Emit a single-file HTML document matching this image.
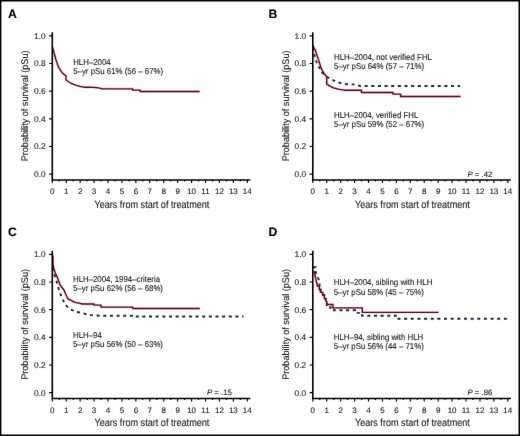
<!DOCTYPE html>
<html><head><meta charset="utf-8"><style>
html,body{margin:0;padding:0;background:#fff;}
svg{display:block;}
text{font-family:"Liberation Sans", sans-serif;text-rendering:geometricPrecision;stroke:#1a1a1a;stroke-width:0.12px;}
</style></head><body>
<svg width="520" height="436" viewBox="0 0 520 436">
<defs><filter id="bl" x="0" y="0" width="520" height="436" filterUnits="userSpaceOnUse" color-interpolation-filters="sRGB"><feConvolveMatrix order="3" kernelMatrix="0.00276 0.04704 0.00276 0.04704 0.80077 0.04704 0.00276 0.04704 0.00276" divisor="1" edgeMode="duplicate"/></filter></defs>
<g filter="url(#bl)">
<rect x="0" y="0" width="520" height="436" fill="#fff"/>
<g transform="translate(0,0)">
<text x="7.9" y="18" font-size="12.2" font-weight="bold" fill="#000">A</text>
<path d="M49.1 174.20H52.3M49.1 146.52H52.3M49.1 118.84H52.3M49.1 91.16H52.3M49.1 63.48H52.3M49.1 35.80H52.3" stroke="#000" stroke-width="1.2"/>
<text x="45.6" y="177.15" font-size="8.3" text-anchor="end" fill="#1a1a1a">0.0</text>
<text x="45.6" y="149.47" font-size="8.3" text-anchor="end" fill="#1a1a1a">0.2</text>
<text x="45.6" y="121.79" font-size="8.3" text-anchor="end" fill="#1a1a1a">0.4</text>
<text x="45.6" y="94.11" font-size="8.3" text-anchor="end" fill="#1a1a1a">0.6</text>
<text x="45.6" y="66.43" font-size="8.3" text-anchor="end" fill="#1a1a1a">0.8</text>
<text x="45.6" y="38.75" font-size="8.3" text-anchor="end" fill="#1a1a1a">1.0</text>
<path d="M52.30 180.0V182.9M66.23 180.0V182.9M80.16 180.0V182.9M94.09 180.0V182.9M108.02 180.0V182.9M121.95 180.0V182.9M135.88 180.0V182.9M149.81 180.0V182.9M163.74 180.0V182.9M177.67 180.0V182.9M191.60 180.0V182.9M205.53 180.0V182.9M219.46 180.0V182.9M233.39 180.0V182.9M247.32 180.0V182.9M59.27 180.0V181.4M73.19 180.0V181.4M87.12 180.0V181.4M101.05 180.0V181.4M114.98 180.0V181.4M128.91 180.0V181.4M142.84 180.0V181.4M156.77 180.0V181.4M170.70 180.0V181.4M184.63 180.0V181.4M198.56 180.0V181.4M212.50 180.0V181.4M226.43 180.0V181.4M240.36 180.0V181.4" stroke="#000" stroke-width="1.15"/>
<text x="52.30" y="194.0" font-size="8.0" text-anchor="middle" fill="#1a1a1a">0</text>
<text x="66.23" y="194.0" font-size="8.0" text-anchor="middle" fill="#1a1a1a">1</text>
<text x="80.16" y="194.0" font-size="8.0" text-anchor="middle" fill="#1a1a1a">2</text>
<text x="94.09" y="194.0" font-size="8.0" text-anchor="middle" fill="#1a1a1a">3</text>
<text x="108.02" y="194.0" font-size="8.0" text-anchor="middle" fill="#1a1a1a">4</text>
<text x="121.95" y="194.0" font-size="8.0" text-anchor="middle" fill="#1a1a1a">5</text>
<text x="135.88" y="194.0" font-size="8.0" text-anchor="middle" fill="#1a1a1a">6</text>
<text x="149.81" y="194.0" font-size="8.0" text-anchor="middle" fill="#1a1a1a">7</text>
<text x="163.74" y="194.0" font-size="8.0" text-anchor="middle" fill="#1a1a1a">8</text>
<text x="177.67" y="194.0" font-size="8.0" text-anchor="middle" fill="#1a1a1a">9</text>
<text x="191.60" y="194.0" font-size="8.0" text-anchor="middle" fill="#1a1a1a">10</text>
<text x="205.53" y="194.0" font-size="8.0" text-anchor="middle" fill="#1a1a1a">11</text>
<text x="219.46" y="194.0" font-size="8.0" text-anchor="middle" fill="#1a1a1a">12</text>
<text x="233.39" y="194.0" font-size="8.0" text-anchor="middle" fill="#1a1a1a">13</text>
<text x="247.32" y="194.0" font-size="8.0" text-anchor="middle" fill="#1a1a1a">14</text>
<text x="94.4" y="207.5" font-size="10.4" textLength="115" lengthAdjust="spacingAndGlyphs" fill="#1a1a1a">Years from start of treatment</text>
<text transform="translate(28.2,161.3) rotate(-90) scale(0.949,1)" x="0" y="0" font-size="9.6" fill="#1a1a1a">Probability of survival (pSu)</text>
<text x="73.2" y="64.6" font-size="8.5" textLength="37.5" lengthAdjust="spacingAndGlyphs" fill="#1a1a1a">HLH–2004</text>
<text x="73.2" y="74.0" font-size="8.5" textLength="90" lengthAdjust="spacingAndGlyphs" fill="#1a1a1a">5–yr pSu 61% (56 – 67%)</text>
<path d="M52.60 47.50 L56.00 60.00 L58.40 66.90 L61.90 72.40 L65.30 75.50 L66.00 75.80 L66.00 80.00 L68.80 82.00 L73.60 84.40 L75.60 85.10 L80.00 86.30 L84.00 87.20 L88.80 87.20 L93.70 87.30 L98.50 87.90 L102.30 88.80 L132.60 88.80 L132.60 90.10 L140.20 90.10 L140.20 91.50 L199.60 91.50" fill="none" stroke="#e04868" stroke-opacity="0.3" stroke-width="2.4" stroke-linejoin="round"/>
<path d="M52.60 47.50 L56.00 60.00 L58.40 66.90 L61.90 72.40 L65.30 75.50 L66.00 75.80 L66.00 80.00 L68.80 82.00 L73.60 84.40 L75.60 85.10 L80.00 86.30 L84.00 87.20 L88.80 87.20 L93.70 87.30 L98.50 87.90 L102.30 88.80 L132.60 88.80 L132.60 90.10 L140.20 90.10 L140.20 91.50 L199.60 91.50" fill="none" stroke="#5e0622" stroke-width="1.35" stroke-linejoin="round"/>
<path d="M52.3 32.2V180.0H250.3" fill="none" stroke="#000" stroke-width="1.6"/>
</g>
<g transform="translate(260.5,0)">
<text x="7.9" y="18" font-size="12.2" font-weight="bold" fill="#000">B</text>
<path d="M49.1 174.20H52.3M49.1 146.52H52.3M49.1 118.84H52.3M49.1 91.16H52.3M49.1 63.48H52.3M49.1 35.80H52.3" stroke="#000" stroke-width="1.2"/>
<text x="45.6" y="177.15" font-size="8.3" text-anchor="end" fill="#1a1a1a">0.0</text>
<text x="45.6" y="149.47" font-size="8.3" text-anchor="end" fill="#1a1a1a">0.2</text>
<text x="45.6" y="121.79" font-size="8.3" text-anchor="end" fill="#1a1a1a">0.4</text>
<text x="45.6" y="94.11" font-size="8.3" text-anchor="end" fill="#1a1a1a">0.6</text>
<text x="45.6" y="66.43" font-size="8.3" text-anchor="end" fill="#1a1a1a">0.8</text>
<text x="45.6" y="38.75" font-size="8.3" text-anchor="end" fill="#1a1a1a">1.0</text>
<path d="M52.30 180.0V182.9M66.23 180.0V182.9M80.16 180.0V182.9M94.09 180.0V182.9M108.02 180.0V182.9M121.95 180.0V182.9M135.88 180.0V182.9M149.81 180.0V182.9M163.74 180.0V182.9M177.67 180.0V182.9M191.60 180.0V182.9M205.53 180.0V182.9M219.46 180.0V182.9M233.39 180.0V182.9M247.32 180.0V182.9M59.27 180.0V181.4M73.19 180.0V181.4M87.12 180.0V181.4M101.05 180.0V181.4M114.98 180.0V181.4M128.91 180.0V181.4M142.84 180.0V181.4M156.77 180.0V181.4M170.70 180.0V181.4M184.63 180.0V181.4M198.56 180.0V181.4M212.50 180.0V181.4M226.43 180.0V181.4M240.36 180.0V181.4" stroke="#000" stroke-width="1.15"/>
<text x="52.30" y="194.0" font-size="8.0" text-anchor="middle" fill="#1a1a1a">0</text>
<text x="66.23" y="194.0" font-size="8.0" text-anchor="middle" fill="#1a1a1a">1</text>
<text x="80.16" y="194.0" font-size="8.0" text-anchor="middle" fill="#1a1a1a">2</text>
<text x="94.09" y="194.0" font-size="8.0" text-anchor="middle" fill="#1a1a1a">3</text>
<text x="108.02" y="194.0" font-size="8.0" text-anchor="middle" fill="#1a1a1a">4</text>
<text x="121.95" y="194.0" font-size="8.0" text-anchor="middle" fill="#1a1a1a">5</text>
<text x="135.88" y="194.0" font-size="8.0" text-anchor="middle" fill="#1a1a1a">6</text>
<text x="149.81" y="194.0" font-size="8.0" text-anchor="middle" fill="#1a1a1a">7</text>
<text x="163.74" y="194.0" font-size="8.0" text-anchor="middle" fill="#1a1a1a">8</text>
<text x="177.67" y="194.0" font-size="8.0" text-anchor="middle" fill="#1a1a1a">9</text>
<text x="191.60" y="194.0" font-size="8.0" text-anchor="middle" fill="#1a1a1a">10</text>
<text x="205.53" y="194.0" font-size="8.0" text-anchor="middle" fill="#1a1a1a">11</text>
<text x="219.46" y="194.0" font-size="8.0" text-anchor="middle" fill="#1a1a1a">12</text>
<text x="233.39" y="194.0" font-size="8.0" text-anchor="middle" fill="#1a1a1a">13</text>
<text x="247.32" y="194.0" font-size="8.0" text-anchor="middle" fill="#1a1a1a">14</text>
<text x="94.4" y="207.5" font-size="10.4" textLength="115" lengthAdjust="spacingAndGlyphs" fill="#1a1a1a">Years from start of treatment</text>
<text transform="translate(28.2,161.3) rotate(-90) scale(0.949,1)" x="0" y="0" font-size="9.6" fill="#1a1a1a">Probability of survival (pSu)</text>
<text x="73.5" y="59.6" font-size="8.5" textLength="98" lengthAdjust="spacingAndGlyphs" fill="#1a1a1a">HLH–2004, not verified FHL</text>
<text x="73.5" y="68.8" font-size="8.5" textLength="90.2" lengthAdjust="spacingAndGlyphs" fill="#1a1a1a">5–yr pSu 64% (57 – 71%)</text>
<text x="73.5" y="117.5" font-size="8.5" textLength="84.3" lengthAdjust="spacingAndGlyphs" fill="#1a1a1a">HLH–2004, verified FHL</text>
<text x="73.5" y="127.1" font-size="8.5" textLength="90.2" lengthAdjust="spacingAndGlyphs" fill="#1a1a1a">5–yr pSu 59% (52 – 67%)</text>
<text x="207.0" y="176.9" font-size="7.8" fill="#1a1a1a"><tspan font-style="italic">P</tspan> = .42</text>
<path d="M52.30 47.50 L53.50 53.00 L54.50 58.00 L55.80 61.50 L57.30 65.60 L60.50 69.70 L61.40 72.40 L65.80 76.70 L71.00 79.10 L74.90 81.50 L79.70 83.00 L85.90 84.20 L92.70 84.40 L98.00 85.40 L99.00 86.00 L199.50 86.00" fill="none" stroke="#1c2540" stroke-width="1.9" stroke-dasharray="3.0 3.65"/>
<path d="M52.30 45.30 L52.80 46.50 L54.80 50.30 L56.70 55.90 L58.50 61.40 L60.30 67.00 L62.20 71.40 L63.80 73.80 L66.20 76.70 L66.20 83.90 L69.10 85.90 L73.00 87.80 L77.80 89.20 L83.50 90.20 L101.00 90.20 L101.00 92.50 L132.40 92.40 L132.40 94.10 L140.10 94.10 L140.10 96.50 L200.10 96.50" fill="none" stroke="#e04868" stroke-opacity="0.3" stroke-width="2.4" stroke-linejoin="round"/>
<path d="M52.30 45.30 L52.80 46.50 L54.80 50.30 L56.70 55.90 L58.50 61.40 L60.30 67.00 L62.20 71.40 L63.80 73.80 L66.20 76.70 L66.20 83.90 L69.10 85.90 L73.00 87.80 L77.80 89.20 L83.50 90.20 L101.00 90.20 L101.00 92.50 L132.40 92.40 L132.40 94.10 L140.10 94.10 L140.10 96.50 L200.10 96.50" fill="none" stroke="#5e0622" stroke-width="1.35" stroke-linejoin="round"/>
<path d="M52.3 32.2V180.0H250.3" fill="none" stroke="#000" stroke-width="1.6"/>
</g>
<g transform="translate(0,218.5)">
<text x="7.9" y="17.5" font-size="12.2" font-weight="bold" fill="#000">C</text>
<path d="M49.1 174.20H52.3M49.1 146.52H52.3M49.1 118.84H52.3M49.1 91.16H52.3M49.1 63.48H52.3M49.1 35.80H52.3" stroke="#000" stroke-width="1.2"/>
<text x="45.6" y="177.15" font-size="8.3" text-anchor="end" fill="#1a1a1a">0.0</text>
<text x="45.6" y="149.47" font-size="8.3" text-anchor="end" fill="#1a1a1a">0.2</text>
<text x="45.6" y="121.79" font-size="8.3" text-anchor="end" fill="#1a1a1a">0.4</text>
<text x="45.6" y="94.11" font-size="8.3" text-anchor="end" fill="#1a1a1a">0.6</text>
<text x="45.6" y="66.43" font-size="8.3" text-anchor="end" fill="#1a1a1a">0.8</text>
<text x="45.6" y="38.75" font-size="8.3" text-anchor="end" fill="#1a1a1a">1.0</text>
<path d="M52.30 180.0V182.9M66.23 180.0V182.9M80.16 180.0V182.9M94.09 180.0V182.9M108.02 180.0V182.9M121.95 180.0V182.9M135.88 180.0V182.9M149.81 180.0V182.9M163.74 180.0V182.9M177.67 180.0V182.9M191.60 180.0V182.9M205.53 180.0V182.9M219.46 180.0V182.9M233.39 180.0V182.9M247.32 180.0V182.9M59.27 180.0V181.4M73.19 180.0V181.4M87.12 180.0V181.4M101.05 180.0V181.4M114.98 180.0V181.4M128.91 180.0V181.4M142.84 180.0V181.4M156.77 180.0V181.4M170.70 180.0V181.4M184.63 180.0V181.4M198.56 180.0V181.4M212.50 180.0V181.4M226.43 180.0V181.4M240.36 180.0V181.4" stroke="#000" stroke-width="1.15"/>
<text x="52.30" y="194.0" font-size="8.0" text-anchor="middle" fill="#1a1a1a">0</text>
<text x="66.23" y="194.0" font-size="8.0" text-anchor="middle" fill="#1a1a1a">1</text>
<text x="80.16" y="194.0" font-size="8.0" text-anchor="middle" fill="#1a1a1a">2</text>
<text x="94.09" y="194.0" font-size="8.0" text-anchor="middle" fill="#1a1a1a">3</text>
<text x="108.02" y="194.0" font-size="8.0" text-anchor="middle" fill="#1a1a1a">4</text>
<text x="121.95" y="194.0" font-size="8.0" text-anchor="middle" fill="#1a1a1a">5</text>
<text x="135.88" y="194.0" font-size="8.0" text-anchor="middle" fill="#1a1a1a">6</text>
<text x="149.81" y="194.0" font-size="8.0" text-anchor="middle" fill="#1a1a1a">7</text>
<text x="163.74" y="194.0" font-size="8.0" text-anchor="middle" fill="#1a1a1a">8</text>
<text x="177.67" y="194.0" font-size="8.0" text-anchor="middle" fill="#1a1a1a">9</text>
<text x="191.60" y="194.0" font-size="8.0" text-anchor="middle" fill="#1a1a1a">10</text>
<text x="205.53" y="194.0" font-size="8.0" text-anchor="middle" fill="#1a1a1a">11</text>
<text x="219.46" y="194.0" font-size="8.0" text-anchor="middle" fill="#1a1a1a">12</text>
<text x="233.39" y="194.0" font-size="8.0" text-anchor="middle" fill="#1a1a1a">13</text>
<text x="247.32" y="194.0" font-size="8.0" text-anchor="middle" fill="#1a1a1a">14</text>
<text x="94.4" y="207.5" font-size="10.4" textLength="115" lengthAdjust="spacingAndGlyphs" fill="#1a1a1a">Years from start of treatment</text>
<text transform="translate(28.2,161.3) rotate(-90) scale(0.949,1)" x="0" y="0" font-size="9.6" fill="#1a1a1a">Probability of survival (pSu)</text>
<text x="73" y="63.0" font-size="8.5" textLength="87" lengthAdjust="spacingAndGlyphs" fill="#1a1a1a">HLH–2004, 1994–criteria</text>
<text x="73" y="72.80000000000001" font-size="8.5" textLength="90" lengthAdjust="spacingAndGlyphs" fill="#1a1a1a">5–yr pSu 62% (56 – 68%)</text>
<text x="73" y="119.0" font-size="8.5" textLength="28.8" lengthAdjust="spacingAndGlyphs" fill="#1a1a1a">HLH–94</text>
<text x="73" y="128.10000000000002" font-size="8.5" textLength="90" lengthAdjust="spacingAndGlyphs" fill="#1a1a1a">5–yr pSu 56% (50 – 63%)</text>
<text x="207.0" y="176.9" font-size="7.8" fill="#1a1a1a"><tspan font-style="italic">P</tspan> = .15</text>
<path d="M52.30 49.50 L53.70 54.80 L55.60 59.70 L56.90 64.00 L58.70 70.20 L60.50 75.70 L62.80 80.70 L64.60 85.80 L67.80 88.50 L71.50 91.30 L77.00 93.50 L82.50 94.50 L87.60 96.10 L93.50 96.90 L100.00 97.20 L133.60 97.20 L133.60 98.00 L243.50 98.00" fill="none" stroke="#1c2540" stroke-width="1.9" stroke-dasharray="3.0 3.65"/>
<path d="M52.90 37.00 L52.90 43.50 L53.20 47.50 L54.00 50.50 L55.00 54.00 L57.00 58.10 L60.20 66.50 L64.20 72.00 L66.50 77.50 L67.80 80.30 L71.50 82.10 L75.20 83.90 L79.80 84.80 L82.50 85.50 L94.00 85.50 L94.00 86.60 L101.00 86.60 L101.00 88.60 L132.70 88.60 L132.70 90.00 L199.80 90.00" fill="none" stroke="#e04868" stroke-opacity="0.3" stroke-width="2.4" stroke-linejoin="round"/>
<path d="M52.90 37.00 L52.90 43.50 L53.20 47.50 L54.00 50.50 L55.00 54.00 L57.00 58.10 L60.20 66.50 L64.20 72.00 L66.50 77.50 L67.80 80.30 L71.50 82.10 L75.20 83.90 L79.80 84.80 L82.50 85.50 L94.00 85.50 L94.00 86.60 L101.00 86.60 L101.00 88.60 L132.70 88.60 L132.70 90.00 L199.80 90.00" fill="none" stroke="#5e0622" stroke-width="1.35" stroke-linejoin="round"/>
<path d="M52.3 32.2V180.0H250.3" fill="none" stroke="#000" stroke-width="1.6"/>
</g>
<g transform="translate(260.5,218.5)">
<text x="7.9" y="17.5" font-size="12.2" font-weight="bold" fill="#000">D</text>
<path d="M49.1 174.20H52.3M49.1 146.52H52.3M49.1 118.84H52.3M49.1 91.16H52.3M49.1 63.48H52.3M49.1 35.80H52.3" stroke="#000" stroke-width="1.2"/>
<text x="45.6" y="177.15" font-size="8.3" text-anchor="end" fill="#1a1a1a">0.0</text>
<text x="45.6" y="149.47" font-size="8.3" text-anchor="end" fill="#1a1a1a">0.2</text>
<text x="45.6" y="121.79" font-size="8.3" text-anchor="end" fill="#1a1a1a">0.4</text>
<text x="45.6" y="94.11" font-size="8.3" text-anchor="end" fill="#1a1a1a">0.6</text>
<text x="45.6" y="66.43" font-size="8.3" text-anchor="end" fill="#1a1a1a">0.8</text>
<text x="45.6" y="38.75" font-size="8.3" text-anchor="end" fill="#1a1a1a">1.0</text>
<path d="M52.30 180.0V182.9M66.23 180.0V182.9M80.16 180.0V182.9M94.09 180.0V182.9M108.02 180.0V182.9M121.95 180.0V182.9M135.88 180.0V182.9M149.81 180.0V182.9M163.74 180.0V182.9M177.67 180.0V182.9M191.60 180.0V182.9M205.53 180.0V182.9M219.46 180.0V182.9M233.39 180.0V182.9M247.32 180.0V182.9M59.27 180.0V181.4M73.19 180.0V181.4M87.12 180.0V181.4M101.05 180.0V181.4M114.98 180.0V181.4M128.91 180.0V181.4M142.84 180.0V181.4M156.77 180.0V181.4M170.70 180.0V181.4M184.63 180.0V181.4M198.56 180.0V181.4M212.50 180.0V181.4M226.43 180.0V181.4M240.36 180.0V181.4" stroke="#000" stroke-width="1.15"/>
<text x="52.30" y="194.0" font-size="8.0" text-anchor="middle" fill="#1a1a1a">0</text>
<text x="66.23" y="194.0" font-size="8.0" text-anchor="middle" fill="#1a1a1a">1</text>
<text x="80.16" y="194.0" font-size="8.0" text-anchor="middle" fill="#1a1a1a">2</text>
<text x="94.09" y="194.0" font-size="8.0" text-anchor="middle" fill="#1a1a1a">3</text>
<text x="108.02" y="194.0" font-size="8.0" text-anchor="middle" fill="#1a1a1a">4</text>
<text x="121.95" y="194.0" font-size="8.0" text-anchor="middle" fill="#1a1a1a">5</text>
<text x="135.88" y="194.0" font-size="8.0" text-anchor="middle" fill="#1a1a1a">6</text>
<text x="149.81" y="194.0" font-size="8.0" text-anchor="middle" fill="#1a1a1a">7</text>
<text x="163.74" y="194.0" font-size="8.0" text-anchor="middle" fill="#1a1a1a">8</text>
<text x="177.67" y="194.0" font-size="8.0" text-anchor="middle" fill="#1a1a1a">9</text>
<text x="191.60" y="194.0" font-size="8.0" text-anchor="middle" fill="#1a1a1a">10</text>
<text x="205.53" y="194.0" font-size="8.0" text-anchor="middle" fill="#1a1a1a">11</text>
<text x="219.46" y="194.0" font-size="8.0" text-anchor="middle" fill="#1a1a1a">12</text>
<text x="233.39" y="194.0" font-size="8.0" text-anchor="middle" fill="#1a1a1a">13</text>
<text x="247.32" y="194.0" font-size="8.0" text-anchor="middle" fill="#1a1a1a">14</text>
<text x="94.4" y="207.5" font-size="10.4" textLength="115" lengthAdjust="spacingAndGlyphs" fill="#1a1a1a">Years from start of treatment</text>
<text transform="translate(28.2,161.3) rotate(-90) scale(0.949,1)" x="0" y="0" font-size="9.6" fill="#1a1a1a">Probability of survival (pSu)</text>
<text x="73.30000000000001" y="66.89999999999998" font-size="8.5" textLength="98.6" lengthAdjust="spacingAndGlyphs" fill="#1a1a1a">HLH–2004, sibling with HLH</text>
<text x="73.30000000000001" y="76.10000000000002" font-size="8.5" textLength="90" lengthAdjust="spacingAndGlyphs" fill="#1a1a1a">5–yr pSu 58% (45 – 75%)</text>
<text x="73.30000000000001" y="121.39999999999998" font-size="8.5" textLength="89.5" lengthAdjust="spacingAndGlyphs" fill="#1a1a1a">HLH–94, sibling with HLH</text>
<text x="73.30000000000001" y="130.60000000000002" font-size="8.5" textLength="90" lengthAdjust="spacingAndGlyphs" fill="#1a1a1a">5–yr pSu 56% (44 – 71%)</text>
<text x="207.0" y="176.9" font-size="7.8" fill="#1a1a1a"><tspan font-style="italic">P</tspan> = .86</text>
<path d="M52.30 48.80 L55.20 48.80 L55.20 53.50 L57.20 58.20 L59.10 63.50 L59.10 71.00 L60.10 71.00 L60.10 73.80 L62.30 73.80 L62.30 76.50 L63.80 76.50 L63.80 80.10 L65.30 80.10 L65.30 82.80 L66.30 82.80 L66.30 88.80 L70.00 88.80 L70.00 91.80 L94.50 91.80 L94.50 94.40 L101.50 94.40 L101.50 97.20 L135.50 97.20 L135.50 100.30 L247.00 100.30" fill="none" stroke="#1c2540" stroke-width="1.9" stroke-dasharray="3.0 3.65"/>
<path d="M52.30 53.40 L54.00 53.40 L54.70 57.50 L55.50 61.50 L56.30 64.90 L56.80 64.90 L56.80 67.50 L58.70 67.50 L58.70 71.00 L60.10 71.00 L60.10 73.80 L62.30 73.80 L62.30 76.50 L63.80 76.50 L63.80 80.10 L65.30 80.10 L65.30 82.80 L66.30 82.80 L66.30 86.00 L72.40 86.00 L72.40 89.40 L101.80 89.40 L101.80 93.90 L178.10 93.90" fill="none" stroke="#e04868" stroke-opacity="0.3" stroke-width="2.4" stroke-linejoin="round"/>
<path d="M52.30 53.40 L54.00 53.40 L54.70 57.50 L55.50 61.50 L56.30 64.90 L56.80 64.90 L56.80 67.50 L58.70 67.50 L58.70 71.00 L60.10 71.00 L60.10 73.80 L62.30 73.80 L62.30 76.50 L63.80 76.50 L63.80 80.10 L65.30 80.10 L65.30 82.80 L66.30 82.80 L66.30 86.00 L72.40 86.00 L72.40 89.40 L101.80 89.40 L101.80 93.90 L178.10 93.90" fill="none" stroke="#5e0622" stroke-width="1.35" stroke-linejoin="round"/>
<path d="M52.3 32.2V180.0H250.3" fill="none" stroke="#000" stroke-width="1.6"/>
</g>
<path d="M0 0H520V436H0Z M1.4 1.4V434.5H518.5V1.4Z" fill="#000" fill-rule="evenodd"/>
</g>
</svg>
</body></html>
